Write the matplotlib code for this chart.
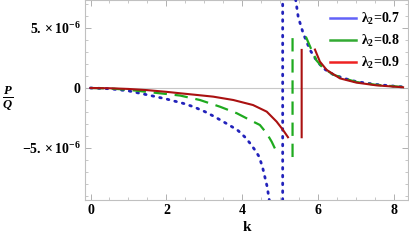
import numpy as np
import matplotlib
matplotlib.use('Agg')
import matplotlib.pyplot as plt
from matplotlib.lines import Line2D
from matplotlib.ticker import MultipleLocator

# - Fontes: serif em negrito, como no original
plt.rcParams['font.family'] = 'Liberation Serif'
plt.rcParams['font.weight'] = 'bold'
plt.rcParams['mathtext.fontset'] = 'custom'
plt.rcParams['mathtext.rm'] = 'Liberation Serif:bold'
plt.rcParams['mathtext.it'] = 'Liberation Serif:italic:bold'
plt.rcParams['mathtext.bf'] = 'Liberation Serif:bold'

# - Dados (valores em unidades de 1e-6); nan separa os ramos
k_07 = [0, 0.5, 1.0, 1.6, 2.0, 2.44, 2.71, 3.01, 3.23, 3.45, 3.72, 3.89, 4.07, 4.2, 4.33, 4.44, 4.53, 4.59, 4.65, 4.68, 4.72,
        np.nan, 5.06, 5.06, np.nan,
        5.40, 5.47, 5.6, 5.78, 5.95, 6.13, 6.4, 6.7, 7.0, 7.5, 8.14, 8.23]
v_07 = [0, -0.06, -0.24, -0.64, -0.92, -1.28, -1.56, -1.97, -2.33, -2.72, -3.22, -3.56, -4.1, -4.6, -5.17, -5.72, -6.6, -7.4, -8.2, -8.8, -9.6,
        np.nan, -10.0, 8.0, np.nan,
        7.4, 5.9, 4.56, 3.17, 2.3, 1.64, 1.1, 0.78, 0.53, 0.3, 0.11, 0.09]

k_08 = [0, 0.5, 1.0, 1.5, 2.0, 2.36, 2.88, 3.41, 3.85, 4.2, 4.46, 4.64, 4.77, 4.85, 4.9,
        np.nan, 5.32, 5.32, np.nan,
        5.67, 5.82, 5.95, 6.13, 6.4, 6.7, 7.0, 7.5, 8.23]
v_08 = [0, -0.04, -0.15, -0.33, -0.5, -0.63, -1.0, -1.56, -2.1, -2.67, -3.08, -3.78, -4.47, -5.0, -5.3,
        np.nan, -5.75, 4.4, np.nan,
        4.28, 3.17, 2.3, 1.64, 1.1, 0.78, 0.5, 0.27, 0.08]

k_09 = [0, 0.5, 1.0, 1.5, 2.0, 2.36, 2.8, 3.23, 3.76, 4.28, 4.64, 4.9, 5.07, 5.2,
        np.nan, 5.56, 5.56, np.nan,
        5.91, 6.04, 6.22, 6.57, 7.0, 7.53, 8.23]
v_09 = [0, -0.02, -0.08, -0.18, -0.32, -0.44, -0.58, -0.72, -1.0, -1.42, -1.97, -2.8, -3.5, -4.1,
        np.nan, -4.1, 3.17, np.nan,
        3.2, 2.2, 1.5, 0.8, 0.45, 0.22, 0.06]

legendas = ['$\\mathrm{\\lambda}_2$=0.7', '$\\mathrm{\\lambda}_2$=0.8', '$\\mathrm{\\lambda}_2$=0.9']

fig = plt.figure(figsize=(4.09, 2.40), dpi=100)
ax = fig.add_axes([85 / 409, 40 / 240, 323 / 409, 200 / 240])

ax.axhline(0, color='#c8c8c8', lw=0.8, zorder=1)

escala = 1e-6
ax.plot(k_07, np.array(v_07) * escala, color='#2222bb', lw=2.0,
        linestyle=(0, (0.6, 2.2)), dash_capstyle='round', zorder=3)
ax.plot(k_08, np.array(v_08) * escala, color='#1faa1f', lw=1.6,
        linestyle=(0, (6, 3.5)), zorder=3)
ax.plot(k_09, np.array(v_09) * escala, color='#aa1111', lw=1.5, zorder=3)

ax.set_xlim(-0.145, 8.36)
ax.set_ylim(-9.33e-6, 7.33e-6)

# - Eixos estilo "frame" do Mathematica
for lado in ax.spines.values():
    lado.set_color('#c0c0c0')
    lado.set_linewidth(0.8)

ax.xaxis.set_major_locator(MultipleLocator(2))
ax.xaxis.set_minor_locator(MultipleLocator(0.5))
ax.set_yticks([-5e-6, 0, 5e-6])
ax.set_yticklabels(['$-5.\\times10^{-6}$', '0', '$5.\\times10^{-6}$'])
ax.yaxis.set_minor_locator(MultipleLocator(1e-6))
ax.tick_params(which='both', direction='in', color='#b0b0b0', top=True, right=True,
               labelsize=10, pad=3)
ax.tick_params(which='major', length=4, width=0.7)
ax.tick_params(which='minor', length=2, width=0.5)

ax.set_xlabel('k', fontsize=11, fontweight='bold', labelpad=3)
fig.text(7.5 / 409, 1 - 98 / 240, '$\\frac{P}{Q}$', fontsize=13, ha='center', va='center')

# - Legenda com linhas sólidas
handles = [Line2D([], [], color='#6262f8', lw=1.8),
           Line2D([], [], color='#33aa33', lw=1.8),
           Line2D([], [], color='#ee2222', lw=1.8)]
ax.legend(handles, legendas, loc='upper left', bbox_to_anchor=(0.74, 0.975),
          frameon=False, fontsize=10, handlelength=1.9, handletextpad=0.35,
          labelspacing=0.45, borderaxespad=0)

fig.savefig('out.png', dpi=100)
